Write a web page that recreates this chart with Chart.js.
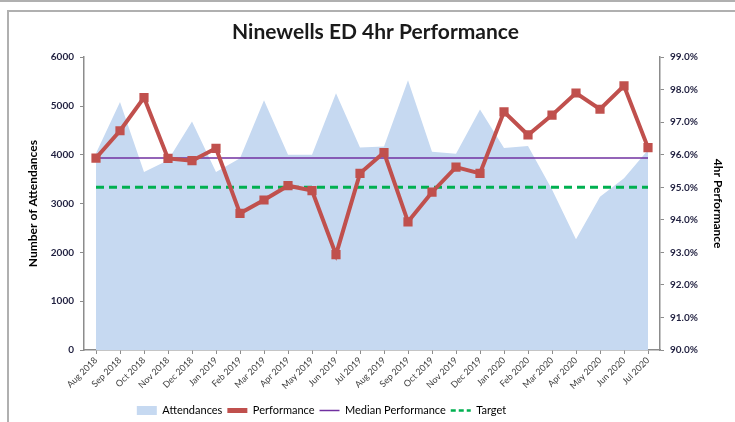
<!DOCTYPE html>
<html>
<head>
<meta charset="utf-8">
<script src="https://cdn.jsdelivr.net/npm/chart.js@4.4.1/dist/chart.umd.min.js"></script>
<style>
html, body { margin: 0; padding: 0; background: #fff; }
#wrap { position: relative; width: 735px; height: 422px; overflow: hidden; }
#topline { position: absolute; left: 0; top: 0; width: 735px; border-top: 2px solid #b0b0b0; }
#frame { position: absolute; left: 7px; top: 10px; width: 740px; height: 430px; border: 2px solid #b0b0b0; box-sizing: border-box; }
#chart { position: absolute; left: 0; top: 0; }
</style>
</head>
<body>
<div id="wrap">
  <div id="topline"></div>
  <div id="frame"></div>
  <canvas id="chart" width="735" height="422"></canvas>
</div>
<script>
const months = ['Aug 2018', 'Sep 2018', 'Oct 2018', 'Nov 2018', 'Dec 2018', 'Jan 2019', 'Feb 2019', 'Mar 2019',
    'Apr 2019', 'May 2019', 'Jun 2019', 'Jul 2019', 'Aug 2019', 'Sep 2019', 'Oct 2019', 'Nov 2019',
    'Dec 2019', 'Jan 2020', 'Feb 2020', 'Mar 2020', 'Apr 2020', 'May 2020', 'Jun 2020', 'Jul 2020'];
const attendances = [4030, 5080, 3650, 3890, 4680, 3650, 3930, 5120, 4000, 4000, 5260, 4150,
    4170, 5530, 4060, 4020, 4930, 4140, 4180, 3290, 2270, 3140, 3520, 4100];
const performance = [95.9, 96.74, 97.76, 95.89, 95.82, 96.2, 94.2, 94.61, 95.05, 94.9, 92.93, 95.43,
    96.07, 93.94, 94.85, 95.62, 95.43, 97.32, 96.61, 97.22, 97.9, 97.4, 98.12, 96.22];
const medianPerformance = 95.9;
const target = 95;

const medianLine = months.map(() => medianPerformance);
const targetLine = months.map(() => target);

Chart.defaults.font.family = 'Lato, "Open Sans", sans-serif';
Chart.defaults.color = '#000';

const axisGrey = '#8c8c8c';

// Excel left the legend a bit left of centre and low
const legendShift = {
    id: 'legendShift',
    afterLayout(chart) {
        chart.legend.left -= 54;
        chart.legend.right -= 54;
        chart.legend.top += 4;
        chart.legend.bottom += 4;
    }
};

new Chart(document.getElementById('chart'), {
    type: 'line',
    data: {
        labels: months,
        datasets: [
            {
                label: 'Attendances',
                data: attendances,
                yAxisID: 'y',
                fill: 'origin',
                backgroundColor: '#c6d9f1',
                borderWidth: 0,
                pointRadius: 0,
                order: 4
            },
            {
                label: 'Performance',
                data: performance,
                yAxisID: 'y1',
                borderColor: '#c0504d',
                backgroundColor: '#c0504d',
                borderWidth: 4,
                pointStyle: 'rect',
                pointRadius: 6.5,
                pointBorderWidth: 0,
                order: 1
            },
            {
                label: 'Median Performance',
                data: medianLine,
                yAxisID: 'y1',
                borderColor: '#7030a0',
                borderWidth: 1.5,
                pointRadius: 0,
                order: 3
            },
            {
                label: 'Target',
                data: targetLine,
                yAxisID: 'y1',
                borderColor: '#00b050',
                borderWidth: 3,
                borderDash: [8, 5],
                pointRadius: 0,
                order: 2
            }
        ]
    },
    plugins: [legendShift],
    options: {
        responsive: false,
        animation: false,
        devicePixelRatio: 1,
        layout: { padding: { left: 26, right: 10, top: 12, bottom: 0 } },
        plugins: {
            tooltip: { enabled: false },
            title: {
                display: true,
                text: 'Ninewells ED 4hr Performance',
                font: { size: 21, weight: 'bold' },
                color: '#1a1a1a',
                padding: { top: 8, bottom: 12 }
            },
            legend: {
                position: 'bottom',
                labels: {
                    usePointStyle: true,
                    boxWidth: 20,
                    boxHeight: 9,
                    pointStyleWidth: 20,
                    padding: 5,
                    font: { size: 11 },
                    generateLabels: () => [
                        { text: 'Attendances', pointStyle: 'rect', fillStyle: '#c6d9f1', strokeStyle: '#c6d9f1', lineWidth: 0, datasetIndex: 0 },
                        { text: 'Performance', pointStyle: 'line', fillStyle: '#c0504d', strokeStyle: '#c0504d', lineWidth: 5, datasetIndex: 1 },
                        { text: 'Median Performance', pointStyle: 'line', fillStyle: '#7030a0', strokeStyle: '#7030a0', lineWidth: 1.5, datasetIndex: 2 },
                        { text: 'Target', pointStyle: 'line', fillStyle: '#00b050', strokeStyle: '#00b050', lineWidth: 2.5, lineDash: [5, 3], datasetIndex: 3 }
                    ]
                }
            }
        },
        scales: {
            x: {
                offset: true,
                grid: { drawOnChartArea: false, tickLength: 4, color: axisGrey },
                border: { color: axisGrey, width: 1.5 },
                ticks: { maxRotation: 45, minRotation: 45, autoSkip: false, font: { size: 9 }, color: '#404040', padding: 1 },
                afterFit: (scale) => { scale.height = 46; }
            },
            y: {
                position: 'left',
                min: 0,
                max: 6000,
                ticks: { stepSize: 1000, font: { size: 10, weight: 'bold' }, color: '#1f1f3f', padding: 6, callback: (v) => String(v) },
                grid: { drawOnChartArea: false, tickLength: 4, color: axisGrey },
                border: { color: axisGrey, width: 1.5 },
                title: { display: true, text: 'Number of Attendances', font: { size: 12, weight: 'bold' }, padding: { top: 0, bottom: 4 } },
                afterFit: (scale) => { scale.width = 58; }
            },
            y1: {
                position: 'right',
                min: 90,
                max: 99,
                ticks: { stepSize: 1, font: { size: 10, weight: 'bold' }, color: '#1f1f3f', padding: 6, callback: (v) => v.toFixed(1) + '%' },
                grid: { drawOnChartArea: false, tickLength: 4, color: axisGrey },
                border: { color: axisGrey, width: 1.5 },
                title: { display: true, text: '4hr Performance', font: { size: 12, weight: 'bold' }, padding: { top: 0, bottom: 4 } },
                afterFit: (scale) => { scale.width = 65; }
            }
        }
    }
});
</script>
</body>
</html>
